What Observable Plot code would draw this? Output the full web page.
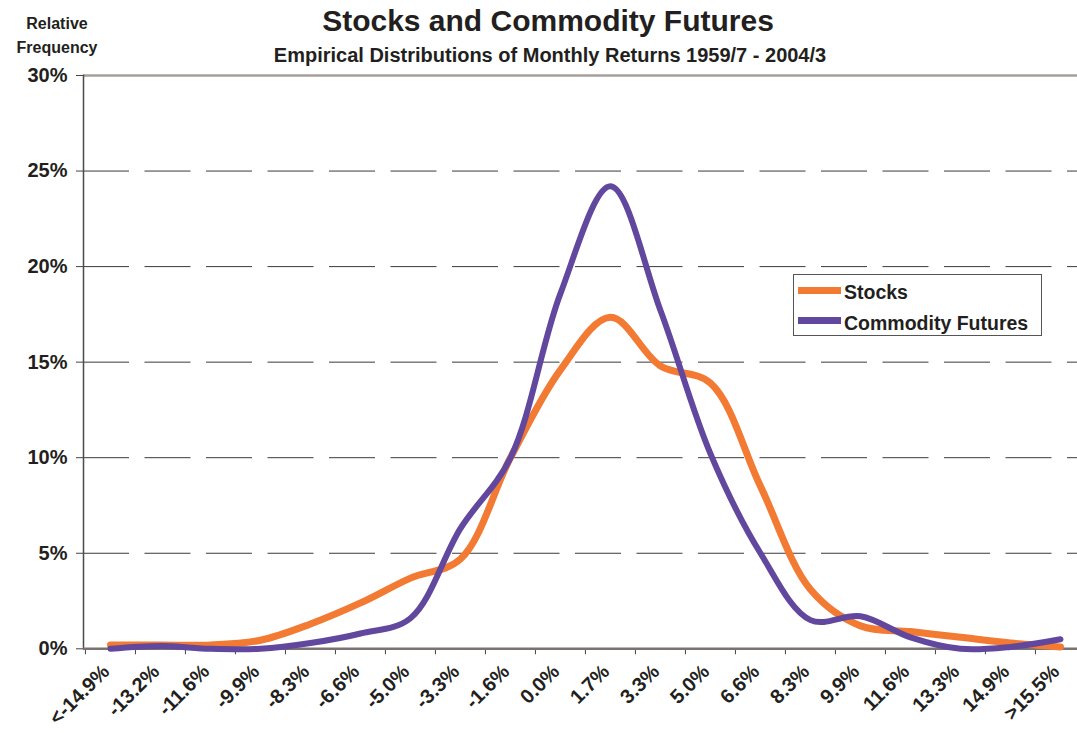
<!DOCTYPE html>
<html><head><meta charset="utf-8">
<script src="https://cdn.jsdelivr.net/npm/d3@7"></script>
<script src="https://cdn.jsdelivr.net/npm/@observablehq/plot@0.6"></script>
<style>
html,body{margin:0;padding:0;background:#fff;overflow:hidden;}
#wrap{position:relative;width:1077px;height:733px;font-family:"Liberation Sans",Arial,sans-serif;font-weight:bold;color:#231f20;}
#chart{position:absolute;left:0;top:0;}
.t{position:absolute;white-space:nowrap;}
#title{left:0;width:1096px;text-align:center;top:5.6px;font-size:30px;line-height:30px;}
#subtitle{left:0;width:1100px;text-align:center;top:45px;font-size:20px;line-height:20px;}
#ylab{left:0;width:114px;text-align:center;top:11.5px;font-size:16px;line-height:24px;}
#legend{position:absolute;left:793px;top:274px;width:247px;height:60px;border:1px solid #555;background:#fff;}
.li{position:absolute;left:50px;font-size:19.5px;line-height:20px;}
.sw{position:absolute;left:4px;width:43px;height:7px;}
</style></head><body>
<div id="wrap">
  <div id="chart"></div>
  <div class="t" id="title">Stocks and Commodity Futures</div>
  <div class="t" id="subtitle">Empirical Distributions of Monthly Returns 1959/7 - 2004/3</div>
  <div class="t" id="ylab">Relative<br>Frequency</div>
  <div id="legend">
    <div class="sw" id="sw0" style="top:12px;"></div>
    <div class="li" id="lt0" style="top:7px;"></div>
    <div class="sw" id="sw1" style="top:42px;"></div>
    <div class="li" id="lt1" style="top:38px;"></div>
  </div>
</div>
<script>
const categories = ["<-14.9%","-13.2%","-11.6%","-9.9%","-8.3%","-6.6%","-5.0%","-3.3%","-1.6%","0.0%","1.7%","3.3%","5.0%","6.6%","8.3%","9.9%","11.6%","13.3%","14.9%",">15.5%"];
const stocks      = [0.2, 0.2, 0.2, 0.45, 1.3, 2.4, 3.7, 4.7, 10.0, 14.6, 17.35, 14.8, 13.9, 8.5, 3.1, 1.2, 0.9, 0.6, 0.3, 0.1];
const commodities = [0.0, 0.15, 0.0, 0.0, 0.3, 0.8, 1.6, 6.3, 10.0, 18.6, 24.2, 17.7, 10.2, 5.0, 1.5, 1.7, 0.6, 0.0, 0.1, 0.5];
const seriesNames = ["Stocks", "Commodity Futures"];
const seriesColors = ["#F27A33", "#61479D"];
const yTicks = [0, 5, 10, 15, 20, 25, 30];
const gridTicks = [5, 10, 15, 20, 25];

const rowsS = categories.map((c, i) => ({cat: c, value: stocks[i]}));
const rowsC = categories.map((c, i) => ({cat: c, value: commodities[i]}));

const x0 = 83, x1 = 1086;
const bw = (x1 - x0) / categories.length;
const textColor = "#231f20";

const chart = Plot.plot({
  width: 1077,
  height: 733,
  marginTop: 75,
  marginBottom: 733 - 648.3,
  marginLeft: 83,
  marginRight: 0,
  style: {fontFamily: "'Liberation Sans', Arial, sans-serif", background: "transparent", overflow: "visible"},
  x: {type: "band", domain: categories, range: [x0, x1], padding: 0},
  y: {domain: [0, 30], range: [648.3, 75]},
  marks: [
    Plot.ruleY(gridTicks, {stroke: "#3a3a3a", strokeWidth: 1, strokeDasharray: "46,15.5"}),
    Plot.ruleY([30], {stroke: "#a79e9c", strokeWidth: 2.5}),
    Plot.frame({anchor: "left", stroke: "#4a4a4a", strokeWidth: 1.5}),
    Plot.axisY({ticks: yTicks, tickFormat: d => d + "%", tickSize: 7, tickPadding: 9, fontSize: 20, fontWeight: "bold", fill: textColor, stroke: "#444", label: null}),
    Plot.axisX({tickFormat: () => "", tickSize: 6, dx: -bw / 2, stroke: "#444", label: null}),
    Plot.ruleY([0], {stroke: "#7a7270", strokeWidth: 2.5}),
    Plot.line(rowsS, {x: "cat", y: "value", stroke: seriesColors[0], strokeWidth: 7, curve: "catmull-rom", strokeLinejoin: "round"}),
    Plot.line(rowsC, {x: "cat", y: "value", stroke: seriesColors[1], strokeWidth: 6, curve: "catmull-rom", strokeLinejoin: "round"}),
    Plot.text(categories, {x: d => d, text: d => d, frameAnchor: "bottom", rotate: -45, textAnchor: "end", dy: 24, dx: 0, fontSize: 20, fontWeight: "bold", fill: textColor, ariaLabel: "xlabels"})
  ]
});
d3.select(chart).selectAll("g[aria-label='xlabels'] text").attr("letter-spacing", "3px");
document.getElementById("chart").appendChild(chart);

document.getElementById("sw0").style.background = seriesColors[0];
document.getElementById("sw1").style.background = seriesColors[1];
document.getElementById("lt0").textContent = seriesNames[0];
document.getElementById("lt1").textContent = seriesNames[1];
</script>
</body></html>
